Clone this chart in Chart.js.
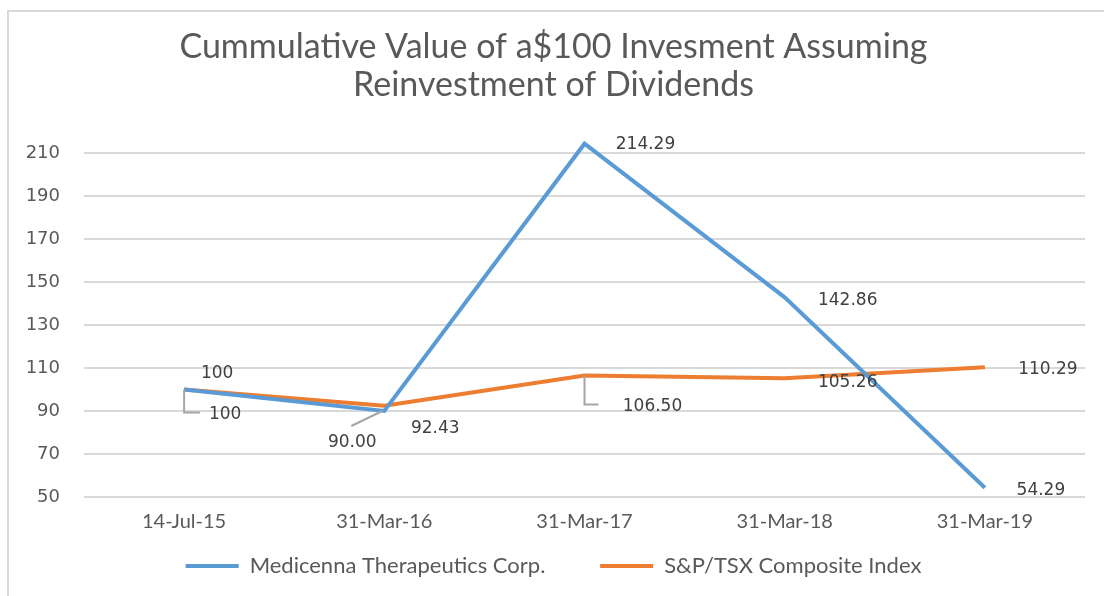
<!DOCTYPE html>
<html>
<head>
<meta charset="utf-8">
<script src="https://cdn.jsdelivr.net/npm/chart.js@4.4.1/dist/chart.umd.min.js"></script>
<style>
  html, body { margin: 0; padding: 0; background: #fff; }
  .wrap { position: relative; width: 1104px; height: 596px; overflow: hidden; }
  .frame {
    position: absolute; left: 7px; top: 10px; width: 1120px; height: 620px;
    border: 2px solid #d9d9d9; box-sizing: border-box; pointer-events: none;
  }
  canvas { position: absolute; left: 0; top: 0; }
</style>
</head>
<body>
<div class="wrap">
  <canvas id="chart" width="1104" height="596"></canvas>
  <div class="frame"></div>
</div>
<script>
const CATEGORIES = ['14-Jul-15', '31-Mar-16', '31-Mar-17', '31-Mar-18', '31-Mar-19'];
const MEDICENNA = [100, 90.00, 214.29, 142.86, 54.29];
const TSX = [100, 92.43, 106.50, 105.26, 110.29];
const MEDICENNA_LABELS = ['100', '90.00', '214.29', '142.86', '54.29'];
const TSX_LABELS = ['100', '92.43', '106.50', '105.26', '110.29'];
const Y_TICKS = [50, 70, 90, 110, 130, 150, 170, 190, 210];

const BLUE = '#5b9bd5';
const ORANGE = '#ed7d31';
const TEXT = '#595959';
const LABEL_TEXT = '#404040';
const CALIBRI = 'Lato, "Open Sans", sans-serif';
const VERDANA = '"DejaVu Sans", Verdana, sans-serif';

// label placement, Excel style: offsets from the point (px), optional leader
const LABEL_PLACEMENT = [
  [
    { dx: 33, dy: -16 },
    { dx: -32, dy: 32, leader: 'diag' },
    { dx: 61, dy: 1 },
    { dx: 63, dy: 3 },
    { dx: 56, dy: 3 },
  ],
  [
    { dx: 41, dy: 25, leader: 'bracket', arm: 16 },
    { dx: 51, dy: 23 },
    { dx: 68, dy: 31, leader: 'bracket', arm: 14 },
    { dx: 63, dy: 4 },
    { dx: 63, dy: 2 },
  ],
];

const dataLabels = {
  id: 'dataLabels',
  afterDatasetsDraw(chart) {
    const ctx = chart.ctx;
    const texts = [MEDICENNA_LABELS, TSX_LABELS];
    ctx.save();
    chart.data.datasets.forEach((ds, di) => {
      const meta = chart.getDatasetMeta(di);
      meta.data.forEach((pt, i) => {
        const place = LABEL_PLACEMENT[di][i];
        const tx = pt.x + place.dx;
        const ty = pt.y + place.dy;
        ctx.strokeStyle = '#a6a6a6';
        ctx.lineWidth = 2;
        if (place.leader === 'bracket') {
          ctx.beginPath();
          ctx.moveTo(pt.x, pt.y);
          ctx.lineTo(pt.x, ty - 2);
          ctx.lineTo(pt.x + place.arm, ty - 2);
          ctx.stroke();
        } else if (place.leader === 'diag') {
          ctx.beginPath();
          ctx.moveTo(pt.x - 2, pt.y);
          ctx.lineTo(pt.x - 33, pt.y + 15);
          ctx.stroke();
        }
        ctx.fillStyle = LABEL_TEXT;
        ctx.font = '17px ' + VERDANA;
        ctx.textAlign = 'center';
        ctx.textBaseline = 'middle';
        ctx.fillText(texts[di][i], tx, ty);
      });
    });
    ctx.restore();
  },
};

function init() {
  const canvas = document.getElementById('chart');
  new Chart(canvas, {
    type: 'line',
    data: {
      labels: CATEGORIES,
      datasets: [
        {
          label: 'Medicenna Therapeutics Corp.',
          data: MEDICENNA,
          borderColor: BLUE,
          backgroundColor: BLUE,
          borderWidth: 4,
          pointRadius: 0,
          tension: 0,
        },
        {
          label: 'S&P/TSX Composite Index',
          data: TSX,
          borderColor: ORANGE,
          backgroundColor: ORANGE,
          borderWidth: 4,
          pointRadius: 0,
          tension: 0,
        },
      ],
    },
    options: {
      responsive: false,
      animation: false,
      layout: { padding: { left: 22, right: 19, top: 0, bottom: 9 } },
      plugins: {
        tooltip: { enabled: false },
        title: {
          display: true,
          text: ['Cummulative Value of a$100 Invesment Assuming', 'Reinvestment of Dividends'],
          color: TEXT,
          font: { family: CALIBRI, size: 34, weight: 'normal', lineHeight: 38 / 34 },
          padding: { top: 28, bottom: 36 },
        },
        legend: {
          position: 'bottom',
          labels: {
            color: TEXT,
            font: { family: CALIBRI, size: 22 },
            boxWidth: 53,
            boxHeight: 4,
            padding: 21,
            // wider gap between the two entries, as in the original legend
            generateLabels: chart =>
              Chart.defaults.plugins.legend.labels.generateLabels(chart).map((item, i) => ({
                ...item,
                lineWidth: 0,
                text: i === 0 ? item.text + '      ' : item.text,
              })),
          },
        },
      },
      scales: {
        x: {
          offset: true,
          afterFit: scale => { scale.height = 37; },
          grid: { display: false, drawTicks: false },
          border: { display: false },
          ticks: { color: TEXT, font: { family: CALIBRI, size: 20 }, padding: 13, maxRotation: 0 },
        },
        y: {
          min: 50,
          max: 216,
          afterFit: scale => { scale.width = 62; },
          afterBuildTicks: scale => { scale.ticks = Y_TICKS.map(value => ({ value })); },
          grid: { color: '#d9d9d9', lineWidth: 2, drawTicks: false },
          border: { display: false },
          ticks: { color: TEXT, font: { family: VERDANA, size: 18 }, padding: 24 },
        },
      },
    },
    plugins: [dataLabels],
  });
}

document.addEventListener('DOMContentLoaded', init);
</script>
</body>
</html>
